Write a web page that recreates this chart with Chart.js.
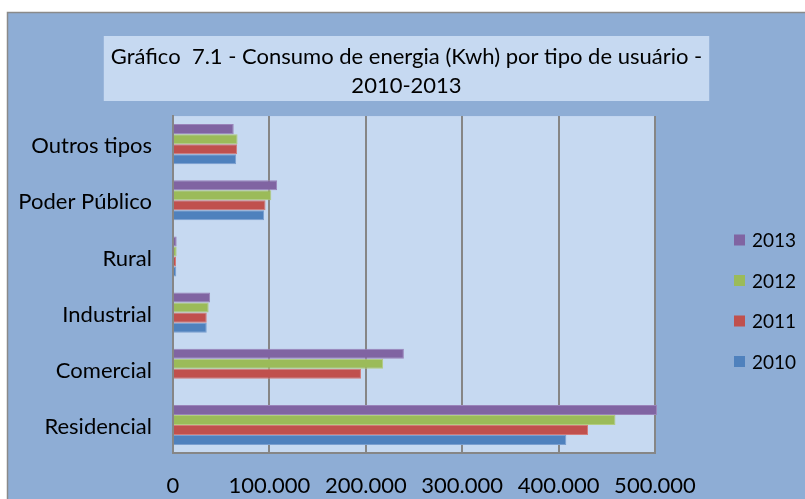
<!DOCTYPE html>
<html lang="pt-br">
<head>
<meta charset="UTF-8">
<title>Gráfico 7.1</title>
<style>
  body { margin: 0; background: #fff; }
  canvas { display: block; }
</style>
</head>
<body>
<canvas id="grafico1" width="805" height="499"></canvas>

<script src="https://cdn.jsdelivr.net/npm/chart.js"></script>
<script>
  // dados (Kwh)
  const tipos = ["Outros tipos", "Poder Público", "Rural", "Industrial", "Comercial", "Residencial"]
  const anos = ["2013", "2012", "2011", "2010"]
  const v2013 = [63000, 108000, 3800, 38500, 239500, 502000]
  const v2012 = [67000, 102000, 3800, 37000, 218000, 459000]
  const v2011 = [66500, 96000, 3100, 35000, 195000, 430500]
  const v2010 = [65500, 94500, 3400, 35000, null, 408000]
  const ticksX = [0, 100000, 200000, 300000, 400000, 500000]
  const titulo = ["Gráfico  7.1 - Consumo de energia (Kwh) por tipo de usuário -", "2010-2013"]

  const fonte = "Lato"
  const milhar = v => String(v).replace(/\B(?=(\d{3})+(?!\d))/g, ".")

  // fundo externo, área do gráfico, caixa do título e legenda
  const moldura = {
    id: "moldura",
    beforeDraw(chart) {
      const { ctx, chartArea: a, width, height } = chart
      ctx.save()
      ctx.fillStyle = "#fff"
      ctx.fillRect(0, 0, width, height)
      ctx.fillStyle = "#8EADD5"
      ctx.fillRect(8, 13, width, height)
      ctx.strokeStyle = "#8a8a8a"
      ctx.lineWidth = 1.5
      ctx.beginPath()
      ctx.moveTo(7.5, height)
      ctx.lineTo(7.5, 12.5)
      ctx.lineTo(width, 12.5)
      ctx.stroke()

      ctx.fillStyle = "#C6D9F1"
      ctx.fillRect(a.left, a.top, a.width, a.height)

      const t = chart.titleBlock
      ctx.font = "22px " + fonte
      const w = Math.max(...titulo.map(l => ctx.measureText(l).width)) + 14
      const cx = (t.left + t.right) / 2
      ctx.fillRect(cx - w / 2, t.top + 24, w, 65)
      ctx.restore()
    },
    afterDraw(chart) {
      const { ctx } = chart
      ctx.save()
      ctx.font = "19px " + fonte
      ctx.textBaseline = "middle"
      chart.data.datasets.forEach((ds, i) => {
        const y = 240 + i * 40.5
        ctx.fillStyle = ds.backgroundColor
        ctx.fillRect(734, y - 5.5, 11, 11)
        ctx.fillStyle = "#000"
        ctx.fillText(ds.label, 752, y + 1)
      })
      ctx.restore()
    }
  }

  const ctx = document.getElementById("grafico1")

  const grafico1 = new Chart(ctx, {
    type: "bar",
    data: {
      labels: tipos,
      datasets: [
        { label: anos[0], data: v2013, backgroundColor: "#8064A2", borderColor: "#9A84BA" },
        { label: anos[1], data: v2012, backgroundColor: "#9BBB59", borderColor: "#B2CC80" },
        { label: anos[2], data: v2011, backgroundColor: "#C0504D", borderColor: "#D27A78" },
        { label: anos[3], data: v2010, backgroundColor: "#4F81BD", borderColor: "#7A9FCF" }
      ]
    },
    options: {
      indexAxis: "y",
      responsive: false,
      animation: false,
      layout: { padding: { left: 8, top: 12, right: 0, bottom: 0 } },
      datasets: {
        bar: {
          categoryPercentage: 0.714,
          barPercentage: 1,
          borderWidth: 1,
          clip: 6
        }
      },
      scales: {
        x: {
          min: ticksX[0],
          max: ticksX[ticksX.length - 1],
          afterBuildTicks: s => { s.ticks = ticksX.map(v => ({ value: v })) },
          afterFit: s => { s.height = 46 },
          ticks: {
            callback: v => milhar(v),
            color: "#000",
            padding: 20,
            maxRotation: 0,
            font: { family: fonte, size: 22 }
          },
          grid: { color: "#868686", lineWidth: 2, drawTicks: false },
          border: { color: "#868686", width: 2 }
        },
        y: {
          afterFit: s => { s.width = 165 },
          ticks: {
            color: "#000",
            padding: 21,
            labelOffset: 2,
            font: { family: fonte, size: 22 }
          },
          grid: { display: false, drawTicks: false },
          border: { color: "#868686", width: 2 }
        },
        // espaço reservado para a legenda à direita
        legenda: {
          axis: "y",
          position: "right",
          afterFit: s => { s.width = 150 },
          ticks: { display: false },
          grid: { display: false, drawTicks: false },
          border: { display: false }
        }
      },
      plugins: {
        legend: { display: false },
        tooltip: { enabled: false },
        title: {
          display: true,
          text: titulo,
          color: "#000",
          font: { family: fonte, size: 22, weight: "normal", lineHeight: 1.32 },
          padding: { top: 30, bottom: 16 }
        }
      }
    },
    plugins: [moldura]
  })
</script>
</body>
</html>
